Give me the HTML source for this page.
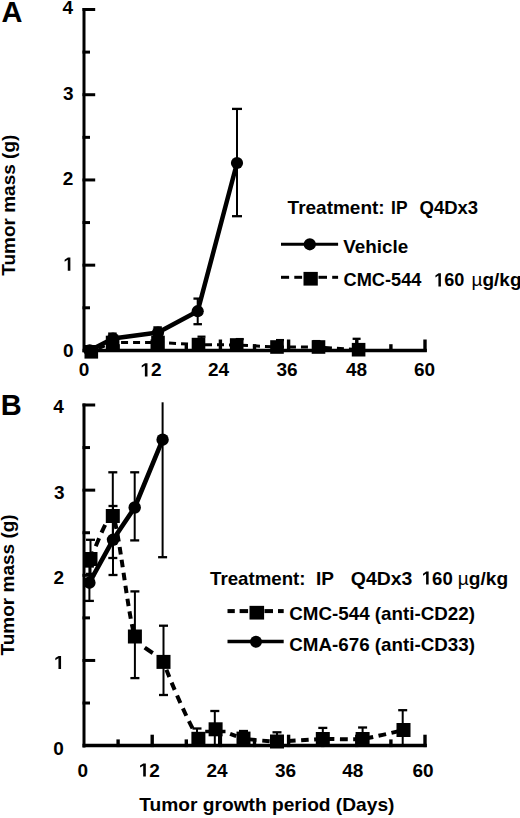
<!DOCTYPE html>
<html><head><meta charset="utf-8"><style>
html,body{margin:0;padding:0;background:#fff;}
svg{display:block;}
</style></head><body>
<svg width="520" height="818" viewBox="0 0 520 818" font-family="Liberation Sans, sans-serif" font-weight="bold" font-size="19" fill="#000">
<g stroke="#000">
<line x1="84" y1="8" x2="84" y2="352.2" stroke-width="3"/>
<line x1="82.5" y1="307.79" x2="90" y2="307.79" stroke-width="3"/>
<line x1="82.5" y1="265.17" x2="95.2" y2="265.17" stroke-width="3"/>
<line x1="82.5" y1="222.56" x2="90" y2="222.56" stroke-width="3"/>
<line x1="82.5" y1="179.95" x2="95.2" y2="179.95" stroke-width="3"/>
<line x1="82.5" y1="137.34" x2="90" y2="137.34" stroke-width="3"/>
<line x1="82.5" y1="94.72" x2="95.2" y2="94.72" stroke-width="3"/>
<line x1="82.5" y1="52.11" x2="90" y2="52.11" stroke-width="3"/>
<line x1="82.5" y1="9.5" x2="95.2" y2="9.5" stroke-width="3"/>
<line x1="82.5" y1="350.4" x2="426.8" y2="350.4" stroke-width="3.5"/>
<line x1="118.1" y1="351.9" x2="118.1" y2="344.2" stroke-width="3.4"/>
<line x1="152.2" y1="351.9" x2="152.2" y2="339.5" stroke-width="3.4"/>
<line x1="186.3" y1="351.9" x2="186.3" y2="344.2" stroke-width="3.4"/>
<line x1="220.4" y1="351.9" x2="220.4" y2="339.5" stroke-width="3.4"/>
<line x1="254.5" y1="351.9" x2="254.5" y2="344.2" stroke-width="3.4"/>
<line x1="288.6" y1="351.9" x2="288.6" y2="339.5" stroke-width="3.4"/>
<line x1="322.7" y1="351.9" x2="322.7" y2="344.2" stroke-width="3.4"/>
<line x1="356.8" y1="351.9" x2="356.8" y2="339.5" stroke-width="3.4"/>
<line x1="390.9" y1="351.9" x2="390.9" y2="344.2" stroke-width="3.4"/>
<line x1="425" y1="351.9" x2="425" y2="339.5" stroke-width="3.4"/>
<polyline points="91.3,351.8 112.6,342.5 158,342.5 198.5,344.6 236.7,345 277,347 318.5,347 358.6,349.7" fill="none" stroke-width="3" stroke-dasharray="7 5" stroke-dashoffset="4.3"/>
<line x1="201.5" y1="336.7" x2="201.5" y2="344.6" stroke-width="2"/>
<line x1="197.5" y1="336.7" x2="205.5" y2="336.7" stroke-width="2.3"/>
<line x1="239.7" y1="339.1" x2="239.7" y2="345" stroke-width="2"/>
<line x1="235.7" y1="339.1" x2="243.7" y2="339.1" stroke-width="2.3"/>
<line x1="280" y1="340.1" x2="280" y2="347" stroke-width="2"/>
<line x1="276" y1="340.1" x2="284" y2="340.1" stroke-width="2.3"/>
<line x1="316.5" y1="341.1" x2="316.5" y2="347" stroke-width="2"/>
<line x1="312.5" y1="341.1" x2="320.5" y2="341.1" stroke-width="2.3"/>
<line x1="356.6" y1="338.8" x2="356.6" y2="349.7" stroke-width="2"/>
<line x1="352.6" y1="338.8" x2="360.6" y2="338.8" stroke-width="2.3"/>
<rect x="84.5" y="345" width="13.6" height="13.6" stroke="none"/>
<rect x="105.8" y="335.7" width="13.6" height="13.6" stroke="none"/>
<rect x="151.2" y="335.7" width="13.6" height="13.6" stroke="none"/>
<rect x="191.7" y="337.8" width="13.6" height="13.6" stroke="none"/>
<rect x="229.9" y="338.2" width="13.6" height="13.6" stroke="none"/>
<rect x="270.2" y="340.2" width="13.6" height="13.6" stroke="none"/>
<rect x="311.7" y="340.2" width="13.6" height="13.6" stroke="none"/>
<rect x="351.8" y="342.9" width="13.6" height="13.6" stroke="none"/>
<line x1="112.4" y1="333.6" x2="112.4" y2="341" stroke-width="2"/>
<line x1="108.15" y1="333.6" x2="116.65" y2="333.6" stroke-width="2.3"/>
<line x1="157.6" y1="327.4" x2="157.6" y2="337" stroke-width="2"/>
<line x1="153.35" y1="327.4" x2="161.85" y2="327.4" stroke-width="2.3"/>
<line x1="197.7" y1="298.6" x2="197.7" y2="324.2" stroke-width="2"/>
<line x1="193.45" y1="298.6" x2="201.95" y2="298.6" stroke-width="2.3"/>
<line x1="193.45" y1="324.2" x2="201.95" y2="324.2" stroke-width="2.3"/>
<line x1="237" y1="108.9" x2="237" y2="216.2" stroke-width="2"/>
<line x1="232" y1="108.9" x2="242" y2="108.9" stroke-width="2.3"/>
<line x1="232" y1="216.2" x2="242" y2="216.2" stroke-width="2.3"/>
<polyline points="89.7,350.4 113,338.6 158,332.6 197.7,311.2 237,163" fill="none" stroke-width="4.5" stroke-linejoin="round"/>
<circle cx="89.7" cy="350.4" r="6.1" stroke="none"/>
<circle cx="113" cy="338.6" r="6.1" stroke="none"/>
<circle cx="158" cy="332.6" r="6.1" stroke="none"/>
<circle cx="197.7" cy="311.2" r="6.1" stroke="none"/>
<circle cx="237" cy="163" r="6.1" stroke="none"/>
<line x1="84" y1="403.5" x2="84" y2="747.4" stroke-width="3"/>
<line x1="82.5" y1="703.02" x2="90" y2="703.02" stroke-width="3"/>
<line x1="82.5" y1="660.45" x2="95.2" y2="660.45" stroke-width="3"/>
<line x1="82.5" y1="617.88" x2="90" y2="617.88" stroke-width="3"/>
<line x1="82.5" y1="575.3" x2="95.2" y2="575.3" stroke-width="3"/>
<line x1="82.5" y1="532.73" x2="90" y2="532.73" stroke-width="3"/>
<line x1="82.5" y1="490.15" x2="95.2" y2="490.15" stroke-width="3"/>
<line x1="82.5" y1="447.57" x2="90" y2="447.57" stroke-width="3"/>
<line x1="82.5" y1="405" x2="95.2" y2="405" stroke-width="3"/>
<line x1="82.5" y1="745.6" x2="426.8" y2="745.6" stroke-width="3.5"/>
<line x1="118.1" y1="747.1" x2="118.1" y2="739.4" stroke-width="3.4"/>
<line x1="152.2" y1="747.1" x2="152.2" y2="734.7" stroke-width="3.4"/>
<line x1="186.3" y1="747.1" x2="186.3" y2="739.4" stroke-width="3.4"/>
<line x1="220.4" y1="747.1" x2="220.4" y2="734.7" stroke-width="3.4"/>
<line x1="254.5" y1="747.1" x2="254.5" y2="739.4" stroke-width="3.4"/>
<line x1="288.6" y1="747.1" x2="288.6" y2="734.7" stroke-width="3.4"/>
<line x1="322.7" y1="747.1" x2="322.7" y2="739.4" stroke-width="3.4"/>
<line x1="356.8" y1="747.1" x2="356.8" y2="734.7" stroke-width="3.4"/>
<line x1="390.9" y1="747.1" x2="390.9" y2="739.4" stroke-width="3.4"/>
<line x1="425" y1="747.1" x2="425" y2="734.7" stroke-width="3.4"/>
<line x1="90.5" y1="539.8" x2="90.5" y2="573.9" stroke-width="2"/>
<line x1="86" y1="539.8" x2="95" y2="539.8" stroke-width="2.3"/>
<line x1="86" y1="573.9" x2="95" y2="573.9" stroke-width="2.3"/>
<line x1="112.8" y1="472.3" x2="112.8" y2="558" stroke-width="2"/>
<line x1="108.3" y1="472.3" x2="117.3" y2="472.3" stroke-width="2.3"/>
<line x1="108.3" y1="558" x2="117.3" y2="558" stroke-width="2.3"/>
<line x1="134.9" y1="591.4" x2="134.9" y2="678.1" stroke-width="2"/>
<line x1="130.4" y1="591.4" x2="139.4" y2="591.4" stroke-width="2.3"/>
<line x1="130.4" y1="678.1" x2="139.4" y2="678.1" stroke-width="2.3"/>
<line x1="163.5" y1="625.7" x2="163.5" y2="695" stroke-width="2"/>
<line x1="159" y1="625.7" x2="168" y2="625.7" stroke-width="2.3"/>
<line x1="159" y1="695" x2="168" y2="695" stroke-width="2.3"/>
<line x1="197" y1="728.5" x2="197" y2="745" stroke-width="2"/>
<line x1="192.5" y1="728.5" x2="201.5" y2="728.5" stroke-width="2.3"/>
<line x1="214.8" y1="711" x2="214.8" y2="745" stroke-width="2"/>
<line x1="210.3" y1="711" x2="219.3" y2="711" stroke-width="2.3"/>
<line x1="243.5" y1="731" x2="243.5" y2="745" stroke-width="2"/>
<line x1="239" y1="731" x2="248" y2="731" stroke-width="2.3"/>
<line x1="277" y1="732.3" x2="277" y2="745" stroke-width="2"/>
<line x1="272.5" y1="732.3" x2="281.5" y2="732.3" stroke-width="2.3"/>
<line x1="322.8" y1="727.9" x2="322.8" y2="745" stroke-width="2"/>
<line x1="318.3" y1="727.9" x2="327.3" y2="727.9" stroke-width="2.3"/>
<line x1="362.6" y1="727.5" x2="362.6" y2="745" stroke-width="2"/>
<line x1="358.1" y1="727.5" x2="367.1" y2="727.5" stroke-width="2.3"/>
<line x1="402.7" y1="710.2" x2="402.7" y2="745" stroke-width="2"/>
<line x1="398.2" y1="710.2" x2="407.2" y2="710.2" stroke-width="2.3"/>
<line x1="219.1" y1="735" x2="219.1" y2="745" stroke-width="2.2"/>
<line x1="205.2" y1="731.5" x2="225.5" y2="731.5" stroke-width="3.5"/>
<line x1="89.4" y1="566.5" x2="89.4" y2="600.9" stroke-width="2"/>
<line x1="84.9" y1="566.5" x2="93.9" y2="566.5" stroke-width="2.3"/>
<line x1="84.9" y1="600.9" x2="93.9" y2="600.9" stroke-width="2.3"/>
<line x1="113" y1="506" x2="113" y2="575" stroke-width="2"/>
<line x1="108.5" y1="506" x2="117.5" y2="506" stroke-width="2.3"/>
<line x1="108.5" y1="575" x2="117.5" y2="575" stroke-width="2.3"/>
<line x1="134.7" y1="472.3" x2="134.7" y2="540.4" stroke-width="2"/>
<line x1="130.2" y1="472.3" x2="139.2" y2="472.3" stroke-width="2.3"/>
<line x1="130.2" y1="540.4" x2="139.2" y2="540.4" stroke-width="2.3"/>
<line x1="162.6" y1="402.3" x2="162.6" y2="557.2" stroke-width="2"/>
<line x1="158.1" y1="557.2" x2="167.1" y2="557.2" stroke-width="2.3"/>
<path d="M90.5,559 C92.28,555.56 109.25,509.8 112.8,516" fill="none" stroke-width="4" stroke-dasharray="8.5 6" stroke-dashoffset="0.5"/>
<path d="M112.8,516 C119.02,526.85 127.8,616.07 134.9,636.5" fill="none" stroke-width="4" stroke-dasharray="7.5 5.5" stroke-dashoffset="7.1"/>
<path d="M134.9,636.5 C138.96,648.17 158.42,653.72 163.5,661.9" fill="none" stroke-width="4" stroke-dasharray="9.5 30" stroke-dashoffset="24.3"/>
<path d="M163.5,661.9 C170.5,681.5 188.4,722.8 198.4,738.8" fill="none" stroke-width="4" stroke-dasharray="8 6" stroke-dashoffset="5.6"/>
<path d="M198.4,738.8 C202.57,744.19 211.99,729.32 215.6,729.3" fill="none" stroke-width="4" stroke-dasharray="0 50" stroke-dashoffset="0"/>
<path d="M215.6,729.3 C219.21,729.28 238.59,737.62 243.5,738.6" fill="none" stroke-width="4" stroke-dasharray="6.5 30" stroke-dashoffset="21.3"/>
<path d="M243.5,738.6 C248.41,739.58 270.66,741.47 277,741.5" fill="none" stroke-width="4" stroke-dasharray="7.5 5.5" stroke-dashoffset="7.21"/>
<path d="M277,741.5 C283.34,741.53 315.95,739.2 322.8,739" fill="none" stroke-width="4" stroke-dasharray="7.5 5.5" stroke-dashoffset="1.85"/>
<path d="M322.8,739 C329.65,738.8 356.14,739.72 362.6,739" fill="none" stroke-width="4" stroke-dasharray="7.5 5.5" stroke-dashoffset="8.73"/>
<path d="M362.6,739 C369.06,738.28 400.23,730.72 403.5,730" fill="none" stroke-width="4" stroke-dasharray="7.5 5.5" stroke-dashoffset="9.54"/>
<rect x="83.5" y="552" width="14" height="14" stroke="none"/>
<rect x="105.8" y="509" width="14" height="14" stroke="none"/>
<rect x="127.9" y="629.5" width="14" height="14" stroke="none"/>
<rect x="156.5" y="654.9" width="14" height="14" stroke="none"/>
<rect x="191.4" y="731.8" width="14" height="14" stroke="none"/>
<rect x="208.6" y="722.3" width="14" height="14" stroke="none"/>
<rect x="236.5" y="731.6" width="14" height="14" stroke="none"/>
<rect x="270" y="734.5" width="14" height="14" stroke="none"/>
<rect x="315.8" y="732" width="14" height="14" stroke="none"/>
<rect x="355.6" y="732" width="14" height="14" stroke="none"/>
<rect x="396.5" y="723" width="14" height="14" stroke="none"/>
<polyline points="89.4,582.7 113,539.8 134.7,507.5 162.6,439.7" fill="none" stroke-width="4.6" stroke-linejoin="round"/>
<circle cx="89.4" cy="582.7" r="6.2" stroke="none"/>
<circle cx="113" cy="539.8" r="6.2" stroke="none"/>
<circle cx="134.7" cy="507.5" r="6.2" stroke="none"/>
<circle cx="162.6" cy="439.7" r="6.2" stroke="none"/>
<line x1="281" y1="244.2" x2="338.1" y2="244.2" stroke-width="3"/>
<circle cx="309.8" cy="244.3" r="6.1" stroke="none"/>
<line x1="281" y1="277.3" x2="289.1" y2="277.3" stroke-width="3"/>
<line x1="294.3" y1="277.3" x2="302.1" y2="277.3" stroke-width="3"/>
<line x1="318.5" y1="277.3" x2="327" y2="277.3" stroke-width="3"/>
<line x1="332.2" y1="277.3" x2="338.1" y2="277.3" stroke-width="3"/>
<rect x="303.5" y="271.9" width="14.3" height="13.7" stroke="none"/>
<line x1="227.5" y1="611.1" x2="234.8" y2="611.1" stroke-width="4"/>
<line x1="239.6" y1="611.1" x2="248.1" y2="611.1" stroke-width="4"/>
<line x1="264.5" y1="611.1" x2="273" y2="611.1" stroke-width="4"/>
<line x1="278" y1="611.1" x2="283.7" y2="611.1" stroke-width="4"/>
<rect x="249.5" y="605.85" width="14.6" height="13.7" stroke="none"/>
<line x1="227.5" y1="641.5" x2="283.7" y2="641.5" stroke-width="3.4"/>
<circle cx="256" cy="641.8" r="6" stroke="none"/>
</g>
<g stroke="none">
<text x="1.5" y="22.1" font-size="29">A</text>
<text x="0.8" y="415.4" font-size="29">B</text>
<text x="73.1" y="14.38"  text-anchor="end">4</text>
<text x="73.5" y="99.74"  text-anchor="end">3</text>
<text x="73.4" y="185.25"  text-anchor="end">2</text>
<g transform="translate(63.33,270.67) scale(1.0000,1)"><path d="M478,0L478,1170L140,959L140,1180L493,1409L759,1409L759,0Z" transform="translate(0,0) scale(0.009277,-0.009277)"/></g>
<text x="73.5" y="356.8"  text-anchor="end">0</text>
<text x="63.9" y="413.42"  text-anchor="end">4</text>
<text x="64.6" y="498.85"  text-anchor="end">3</text>
<text x="64" y="583.5"  text-anchor="end">2</text>
<g transform="translate(54.03,669.05) scale(1.0000,1)"><path d="M478,0L478,1170L140,959L140,1180L493,1409L759,1409L759,0Z" transform="translate(0,0) scale(0.009277,-0.009277)"/></g>
<text x="63.8" y="755.1"  text-anchor="end">0</text>
<text x="84.15" y="376.4"  text-anchor="middle">0</text>
<g transform="translate(140.44,376.4) scale(1.0000,1)"><path d="M478,0L478,1170L140,959L140,1180L493,1409L759,1409L759,0Z" transform="translate(0,0) scale(0.009277,-0.009277)"/><text x="10.57" y="0">2</text></g>
<text x="218.5" y="376.4"  text-anchor="middle">24</text>
<text x="287" y="376.4"  text-anchor="middle">36</text>
<text x="356.6" y="376.4"  text-anchor="middle">48</text>
<text x="424.6" y="376.4"  text-anchor="middle">60</text>
<text x="82.9" y="776.5"  text-anchor="middle">0</text>
<g transform="translate(138.78,776.5) scale(1.0000,1)"><path d="M478,0L478,1170L140,959L140,1180L493,1409L759,1409L759,0Z" transform="translate(0,0) scale(0.009277,-0.009277)"/><text x="10.57" y="0">2</text></g>
<text x="217.1" y="776.5"  text-anchor="middle">24</text>
<text x="285.6" y="776.5"  text-anchor="middle">36</text>
<text x="352.8" y="776.5"  text-anchor="middle">48</text>
<text x="422.95" y="776.5"  text-anchor="middle">60</text>
<text transform="translate(15.2,205.2) rotate(-90)"  text-anchor="middle">Tumor mass (g)</text>
<text transform="translate(14.4,584.9) rotate(-90)"  text-anchor="middle">Tumor mass (g)</text>
<text x="266.9" y="810.8"  text-anchor="middle" textLength="255.09" lengthAdjust="spacingAndGlyphs">Tumor growth period (Days)</text>
<text x="287.6" y="214.1"  textLength="97.05" lengthAdjust="spacingAndGlyphs">Treatment:</text>
<text x="391.1" y="214.1"  textLength="16.42" lengthAdjust="spacingAndGlyphs">IP</text>
<text x="419.5" y="213.7"  textLength="58.57" lengthAdjust="spacingAndGlyphs">Q4Dx3</text>
<text x="343.3" y="252.9"  textLength="64.9" lengthAdjust="spacingAndGlyphs">Vehicle</text>
<text x="343.5" y="286.4"  textLength="77.92" lengthAdjust="spacingAndGlyphs">CMC-544</text>
<g transform="translate(434.2,286.4) scale(0.9523,1)"><path d="M478,0L478,1170L140,959L140,1180L493,1409L759,1409L759,0Z" transform="translate(0,0) scale(0.009277,-0.009277)"/><text x="10.57" y="0">60</text></g>
<text x="471.5" y="286.1" ><tspan font-weight="normal">&#181;</tspan>g/kg</text>
<text x="210" y="584.9"  textLength="95.53" lengthAdjust="spacingAndGlyphs">Treatment:</text>
<text x="316.1" y="584.9" >IP</text>
<text x="350.8" y="584.6"  textLength="61.55" lengthAdjust="spacingAndGlyphs">Q4Dx3</text>
<g transform="translate(421.75,584.6) scale(0.9782,1)"><path d="M478,0L478,1170L140,959L140,1180L493,1409L759,1409L759,0Z" transform="translate(0,0) scale(0.009277,-0.009277)"/><text x="10.57" y="0">60</text></g>
<text x="457.8" y="584.6"  textLength="50.3" lengthAdjust="spacingAndGlyphs"><tspan font-weight="normal">&#181;</tspan>g/kg</text>
<text x="289.3" y="620.1"  textLength="185.7" lengthAdjust="spacingAndGlyphs">CMC-544 (anti-CD22)</text>
<text x="289.3" y="650.9"  textLength="185.7" lengthAdjust="spacingAndGlyphs">CMA-676 (anti-CD33)</text>
</g>
</svg>
</body></html>
